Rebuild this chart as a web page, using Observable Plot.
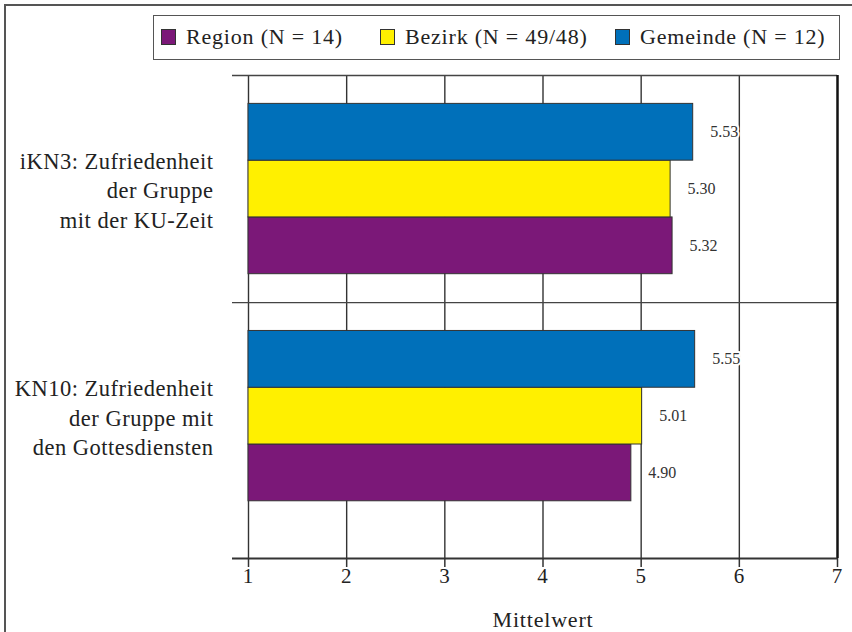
<!DOCTYPE html>
<html>
<head>
<meta charset="utf-8">
<script src="https://cdn.jsdelivr.net/npm/d3@7"></script>
<script src="https://cdn.jsdelivr.net/npm/@observablehq/plot@0.6"></script>
<style>
  html, body { margin: 0; padding: 0; background: #fff; overflow: hidden; }
  #wrap { position: relative; width: 852px; height: 632px; overflow: hidden; font-family: "Liberation Serif", "Times New Roman", serif; }
  #outer { position: absolute; left: 4px; top: 4px; width: 900px; height: 700px; border: 2px solid #555; box-sizing: border-box; }
  #legend { position: absolute; left: 153px; top: 15px; width: 687px; height: 45px; border: 1.5px solid #555; box-sizing: border-box; background: #fff; }
  .item { position: absolute; top: 0; height: 42px; display: flex; align-items: center; font-size: 22px; letter-spacing: 0.8px; color: #222; white-space: nowrap; }
  .sw { width: 15px; height: 16px; border: 1.5px solid #333; margin-right: 10px; box-sizing: border-box; }
  #chart { position: absolute; left: 0; top: 0; }
  #chart svg .big text { letter-spacing: 0.8px; }
  #chart svg .cats text { letter-spacing: 0.5px; }
</style>
</head>
<body>
<div id="wrap">
  <div id="outer"></div>
  <div id="chart"></div>
  <div id="legend"></div>
</div>
<script>
// ---- data ----
const categories = [
  "iKN3: Zufriedenheit\nder Gruppe\nmit der KU-Zeit",
  "KN10: Zufriedenheit\nder Gruppe mit\nden Gottesdiensten"
];
const seriesNames = ["Region (N = 14)", "Bezirk (N = 49/48)", "Gemeinde (N = 12)"];
const seriesColors = ["#7B1878", "#FFF000", "#0070BA"];
const regionValues   = [5.32, 4.90];
const bezirkValues   = [5.30, 5.01];
const gemeindeValues = [5.53, 5.55];
const xTicks = [1, 2, 3, 4, 5, 6, 7];
const axisTitle = "Mittelwert";

// ---- build table ----
const seriesValues = [regionValues, bezirkValues, gemeindeValues];
// order from top within each group: Gemeinde, Bezirk, Region
const slotFromTop = [2, 1, 0];
const barH = 0.25, groupPad = 0.125;
const rows = [];
categories.forEach((c, ci) => {
  seriesValues.forEach((vals, si) => {
    const top = ci + groupPad + slotFromTop[si] * barH;
    rows.push({cat: c, series: seriesNames[si], color: seriesColors[si], value: vals[ci], y1: top, y2: top + barH, yc: top + barH / 2});
  });
});
const catRows = categories.map((c, ci) => ({cat: c, yc: ci + 0.5}));
const yMax = categories.length + 0.127;

const font = '"Liberation Serif", "Times New Roman", serif';

const chart = Plot.plot({
  width: 852,
  height: 632,
  marginLeft: 248,
  marginRight: 15,
  marginTop: 75,
  marginBottom: 74,
  style: {fontFamily: font, color: "#222", background: "transparent"},
  x: {domain: [1, 7], axis: null},
  y: {domain: [0, yMax], reverse: true, axis: null},
  color: {type: "identity"},
  marks: [
    Plot.ruleX(xTicks.slice(0, -1), {stroke: "#333", strokeWidth: 1.4}),
    Plot.ruleY([0, 1], {stroke: "#444", strokeWidth: 1.4, insetLeft: -16}),
    Plot.ruleX([7], {stroke: "#111", strokeWidth: 2.5}),
    Plot.rect(rows, {x1: 1, x2: "value", y1: "y1", y2: "y2", fill: "color", stroke: "#333", strokeWidth: 1}),
    Plot.ruleY([yMax], {stroke: "#333", strokeWidth: 2, insetLeft: -16}),
    Plot.axisX({ticks: xTicks, tickSize: 9, tickPadding: 1, fontSize: 21, className: "big", tickFormat: d => String(d), label: null, stroke: "#333", strokeWidth: 1.5}),
    Plot.text(rows, {x: "value", y: "yc", text: d => d.value.toFixed(2), textAnchor: "start", dx: 17, fontSize: 16, fill: "#333", stroke: "white", strokeWidth: 4, paintOrder: "stroke"}),
    Plot.text(catRows, {y: "yc", text: "cat", frameAnchor: "left", textAnchor: "end", dx: -35, fontSize: 22.5, lineHeight: 1.31, fill: "#222", className: "cats"}),
    Plot.text([axisTitle], {frameAnchor: "bottom", dy: 68, fontSize: 22, fill: "#222", className: "big"})
  ]
});
document.getElementById("chart").appendChild(chart);

// ---- legend ----
const legend = document.getElementById("legend");
const itemLefts = [7, 226, 461];
seriesNames.forEach((name, i) => {
  const it = document.createElement("div");
  it.className = "item";
  it.style.left = itemLefts[i] + "px";
  const sw = document.createElement("span");
  sw.className = "sw";
  sw.style.background = seriesColors[i];
  const tx = document.createElement("span");
  tx.textContent = name;
  it.appendChild(sw);
  it.appendChild(tx);
  legend.appendChild(it);
});
</script>
</body>
</html>
